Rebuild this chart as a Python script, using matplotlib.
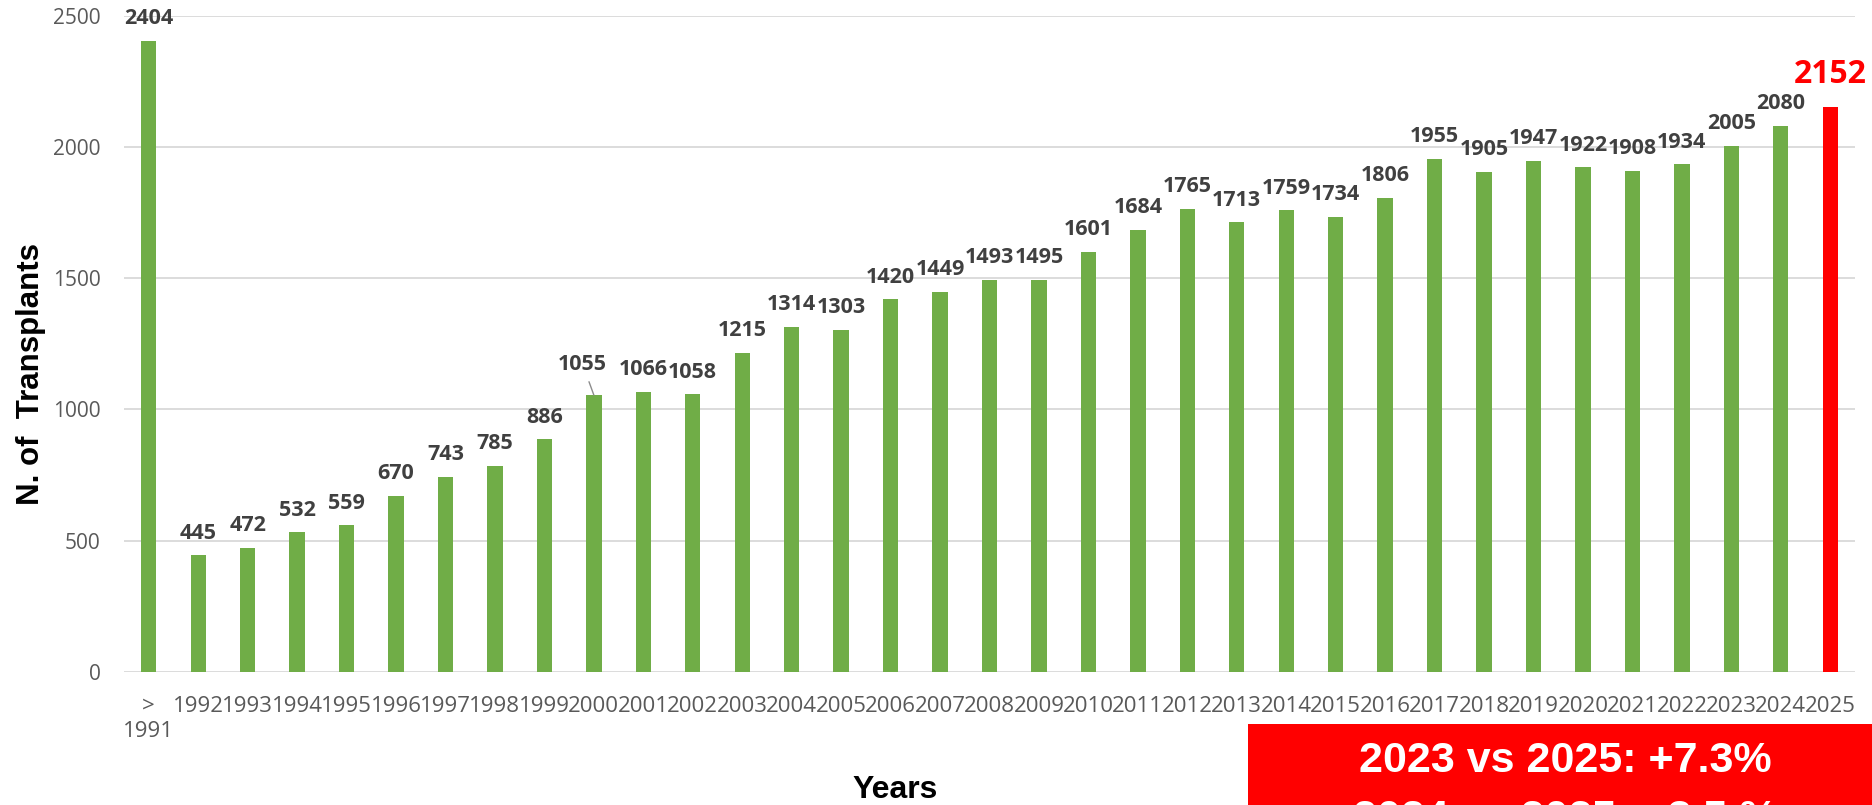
import matplotlib.pyplot as plt
import numpy as np

# chart data
years = ['>\n1991'] + [str(y) for y in range(1992, 2026)]
transplants = [2404, 445, 472, 532, 559, 670, 743, 785, 886, 1055,
               1066, 1058, 1215, 1314, 1303, 1420, 1449, 1493, 1495, 1601,
               1684, 1765, 1713, 1759, 1734, 1806, 1955, 1905, 1947, 1922,
               1908, 1934, 2005, 2080, 2152]
box_lines = ['2023 vs 2025: +7.3%', '2024 vs 2025: +3.5 %']

GREEN = '#70AD47'
RED = '#FF0000'

fig = plt.figure(figsize=(18.72, 8.05), dpi=100)
ax = fig.add_axes([0.06624, 0.1652, 0.92468, 0.8153])

x = np.arange(len(years))
colors = [GREEN] * (len(years) - 1) + [RED]
ax.bar(x, transplants, width=0.31, color=colors, zorder=3)

ax.set_xlim(-0.5, len(years) - 0.5)
ax.set_ylim(0, 2500)
ax.set_yticks(range(0, 2501, 500))
ax.grid(axis='y', color='#D9D9D9', linewidth=1.3, zorder=0)
for s in ax.spines.values():
    s.set_visible(False)

ax.set_xticks(x)
ax.set_xticklabels(years, fontfamily='Open Sans', fontsize=16, color='#595959',
                   linespacing=1.25)
ax.tick_params(axis='x', length=0, pad=17)
ax.tick_params(axis='y', length=0, pad=17, labelsize=15, labelcolor='#595959')
for t in ax.get_yticklabels():
    t.set_fontfamily('Open Sans')

# data labels
for i, v in enumerate(transplants):
    if i == len(transplants) - 1:
        ax.annotate(str(v), (i, v), xytext=(0, 17), textcoords='offset points',
                    ha='center', va='baseline', fontsize=23, fontweight='bold',
                    color=RED, fontfamily='Open Sans')
    elif v == 1055:
        ax.annotate(str(v), (i, v), xytext=(-8, 18), textcoords='offset points',
                    ha='center', va='baseline', fontsize=15.5, fontweight='bold',
                    color='#404040', fontfamily='Open Sans',
                    arrowprops=dict(arrowstyle='-', color='#8C8C8C', lw=1,
                                    shrinkA=3, shrinkB=0))
    else:
        ax.annotate(str(v), (i, v), xytext=(0, 12), textcoords='offset points',
                    ha='center', va='baseline', fontsize=15.5, fontweight='bold',
                    color='#404040', fontfamily='Open Sans')

fig.text(0.0165, 0.535, 'N. of  Transplants', rotation=90, ha='center', va='center',
         fontsize=22.5, fontweight='bold', fontfamily='Liberation Sans', color='black')
fig.text(0.478, 0.0186, 'Years', ha='center', va='center',
         fontsize=23, fontweight='bold', fontfamily='Liberation Sans', color='black')

# red summary box at bottom right
fig.patches.append(plt.Rectangle((0.6667, -0.05), 0.4, 0.1506, transform=fig.transFigure,
                                 facecolor=RED, edgecolor='none', zorder=5))
fig.text(0.836, 0.0545, box_lines[0], ha='center', va='center', fontsize=31,
         fontweight='bold', fontfamily='Liberation Sans', color='white', zorder=6)
fig.text(0.836, -0.017, box_lines[1], ha='center', va='center', fontsize=31,
         fontweight='bold', fontfamily='Liberation Sans', color='white', zorder=6)

fig.savefig('out.png', dpi=100)
